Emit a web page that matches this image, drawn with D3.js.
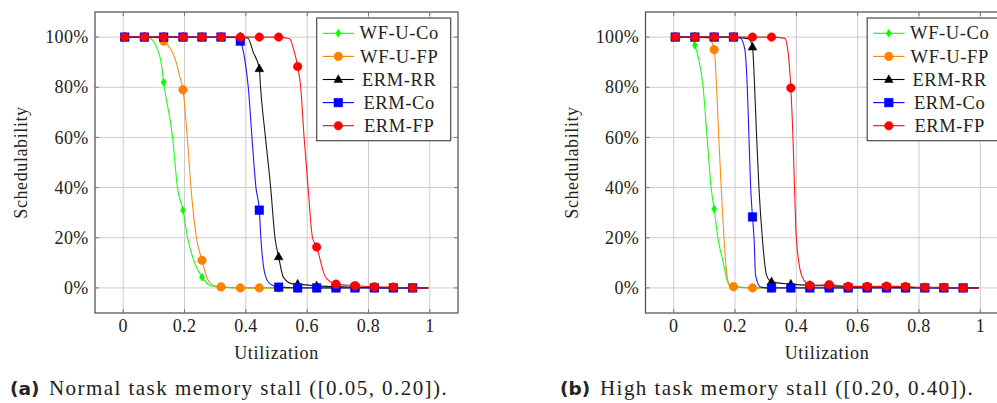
<!DOCTYPE html>
<html>
<head>
<meta charset="utf-8">
<script src="https://cdnjs.cloudflare.com/ajax/libs/d3/7.8.5/d3.min.js"></script>
<style>
  html, body { margin: 0; padding: 0; background: #fff; }
  svg { display: block; }
</style>
</head>
<body>
<svg id="chart" width="997" height="403"></svg>
<script>
// utilization values where the marks sit (same for every series)
const utilMarks = [0.005, 0.069, 0.132, 0.195, 0.257, 0.319, 0.382, 0.444, 0.507, 0.569, 0.631, 0.694, 0.756, 0.819, 0.881, 0.944];

const seriesNames = ['WF-U-Co', 'WF-U-FP', 'ERM-RR', 'ERM-Co', 'ERM-FP'];
const xTicks = [0, 0.2, 0.4, 0.6, 0.8, 1];
const yTicks = [0, 20, 40, 60, 80, 100];

// (a) normal task memory stall -- values at the marks, in %
const normalWfuCo = [100, 100, 82, 31, 4.3, 0.3, 0, 0, 0, 0, 0, 0, 0, 0, 0, 0];
const normalWfuFp = [100, 100, 98.4, 79, 11, 0.4, 0, 0, 0, 0, 0, 0, 0, 0, 0, 0];
const normalErmRr = [100, 100, 100, 100, 100, 100, 100, 87.4, 12.4, 1.5, 0.8, 0.5, 0.3, 0.1, 0, 0];
const normalErmCo = [100, 100, 100, 100, 100, 100, 98.4, 31, 0.3, 0, 0, 0, 0, 0, 0, 0];
const normalErmFp = [100, 100, 100, 100, 100, 100, 100, 100, 100, 88.3, 16.3, 1.5, 0.9, 0.4, 0.3, 0];
// (a) points of the curves between the marks [util, %]
const normalWfuCoCurve = [[0.087, 99.5], [0.109, 96], [0.125, 89], [0.161, 60], [0.177, 40], [0.21, 20], [0.234, 9.7], [0.283, 1], [0.995, 0]];
const normalWfuFpCurve = [[0.11, 99.8], [0.174, 89.4], [0.185, 84], [0.209, 60], [0.221, 40], [0.239, 20], [0.272, 4.4], [0.293, 1], [0.995, 0]];
const normalErmRrCurve = [[0.407, 99.5], [0.424, 94], [0.448, 80], [0.464, 60], [0.481, 40], [0.495, 20], [0.522, 4.4], [0.549, 1.7], [0.995, 0]];
const normalErmCoCurve = [[0.37, 99.8], [0.397, 90.7], [0.408, 80], [0.42, 60], [0.433, 40], [0.449, 20], [0.462, 5.7], [0.478, 1.7], [0.995, 0]];
const normalErmFpCurve = [[0.543, 99.3], [0.556, 95], [0.579, 80], [0.59, 60], [0.603, 40], [0.6175, 20], [0.657, 5], [0.675, 2.5], [0.995, 0]];

// (b) high task memory stall
const highWfuCo = [100, 96.7, 31.5, 0.5, 0, 0, 0, 0, 0, 0, 0, 0, 0, 0, 0, 0];
const highWfuFp = [100, 100, 95, 0.5, 0, 0, 0, 0, 0, 0, 0, 0, 0, 0, 0, 0];
const highErmRr = [100, 100, 100, 100, 96, 2.4, 1.5, 1, 0.8, 0.5, 0.4, 0.3, 0.2, 0.1, 0, 0];
const highErmCo = [100, 100, 100, 100, 28.3, 0, 0, 0, 0, 0, 0, 0, 0, 0, 0, 0];
const highErmFp = [100, 100, 100, 100, 100, 100, 79.7, 1, 1.3, 0.6, 0.6, 0.7, 0.5, 0.2, 0.2, 0];
const highWfuCoCurve = [[0.055, 100], [0.08, 92], [0.096, 80], [0.109, 60], [0.122, 40], [0.144, 20], [0.162, 10], [0.172, 4], [0.185, 0.6], [0.995, 0]];
const highWfuFpCurve = [[0.115, 99.5], [0.14, 80], [0.147, 60], [0.155, 40], [0.164, 20], [0.172, 7], [0.183, 0.8], [0.995, 0]];
const highErmRrCurve = [[0.245, 99.3], [0.264, 80], [0.2705, 60], [0.278, 40], [0.289, 20], [0.303, 5], [0.995, 0]];
const highErmCoCurve = [[0.218, 99.5], [0.232, 95], [0.24, 80], [0.2455, 60], [0.251, 40], [0.262, 20], [0.267, 5], [0.284, 0.3], [0.995, 0]];
const highErmFpCurve = [[0.362, 99.5], [0.374, 93], [0.389, 60], [0.394, 40], [0.4, 20], [0.417, 5], [0.436, 1.5], [0.995, 0]];

const captionTags = ['(a)', '(b)'];
const captionTexts = ['Normal task memory stall ([0.05, 0.20]).', 'High task memory stall ([0.20, 0.40]).'];

// styles
const COLORS = ['#00ff00', '#ff8000', '#000000', '#0000ff', '#ff0000'];
const MARKS = ['diamond', 'circle', 'triangle', 'square', 'circle'];
const SERIF = 'Liberation Serif';
const PLOT = { top: 12, height: 301, width: 363 };
const X_DOMAIN = [-0.092, 1.092];
const Y_DOMAIN = [-10, 110];

const $svg = d3.select('#chart');

function mergePoints(marks, curve) {
    const pts = utilMarks.map((u, i) => [u, marks[i]]).concat(curve);
    return pts.sort((a, b) => a[0] - b[0]);
}

function drawMark(g, type, cx, cy, color) {
    let m;
    if (type === 'circle') {
        m = g.append('circle').attr('cx', cx).attr('cy', cy).attr('r', 4.3);
    } else if (type === 'square') {
        m = g.append('rect').attr('x', cx - 4.3).attr('y', cy - 4.3).attr('width', 8.6).attr('height', 8.6);
    } else if (type === 'triangle') {
        m = g.append('path').attr('d', `M${cx},${cy - 4.8}L${cx + 4.4},${cy + 3}L${cx - 4.4},${cy + 3}Z`);
    } else {
        m = g.append('path').attr('d', `M${cx},${cy - 4}L${cx + 2.6},${cy}L${cx},${cy + 4}L${cx - 2.6},${cy}Z`);
    }
    m.attr('fill', color).attr('stroke', color).attr('stroke-width', 0.8).attr('stroke-opacity', 0.6);
}

function serifText(sel, size, spacing) {
    return sel.attr('font-family', SERIF)
        .attr('font-size', size)
        .attr('letter-spacing', spacing || 0)
        .attr('fill', '#222');
}

function drawPanel(left, series, tag, caption, captionX, captionSerifX) {
    const x = d3.scaleLinear().domain(X_DOMAIN).range([left, left + PLOT.width]);
    const y = d3.scaleLinear().domain(Y_DOMAIN).range([PLOT.top + PLOT.height, PLOT.top]);
    const bottom = PLOT.top + PLOT.height;
    const right = left + PLOT.width;

    const g = $svg.append('g');

    // grid
    g.selectAll('.gx').data(xTicks).enter().append('line')
        .attr('x1', d => x(d)).attr('x2', d => x(d))
        .attr('y1', PLOT.top).attr('y2', bottom)
        .attr('stroke', '#cccccc').attr('stroke-width', 1);
    g.selectAll('.gy').data(yTicks).enter().append('line')
        .attr('x1', left).attr('x2', right)
        .attr('y1', d => y(d)).attr('y2', d => y(d))
        .attr('stroke', '#cccccc').attr('stroke-width', 1);

    // series
    const line = d3.line().x(d => x(d[0])).y(d => y(d[1])).curve(d3.curveMonotoneX);
    series.forEach((s, i) => {
        g.append('path')
            .datum(mergePoints(s.marks, s.curve))
            .attr('d', line)
            .attr('fill', 'none')
            .attr('stroke', COLORS[i])
            .attr('stroke-width', 1.1)
            .attr('stroke-opacity', 0.9);
        const mg = g.append('g');
        utilMarks.forEach((u, k) => drawMark(mg, MARKS[i], x(u), y(s.marks[k]), COLORS[i]));
    });

    // frame + ticks
    g.append('rect')
        .attr('x', left).attr('y', PLOT.top)
        .attr('width', PLOT.width).attr('height', PLOT.height)
        .attr('fill', 'none').attr('stroke', '#4a4a4a').attr('stroke-width', 1.2);
    xTicks.forEach(t => {
        g.append('line').attr('x1', x(t)).attr('x2', x(t)).attr('y1', bottom).attr('y2', bottom - 4).attr('stroke', '#777');
        g.append('line').attr('x1', x(t)).attr('x2', x(t)).attr('y1', PLOT.top).attr('y2', PLOT.top + 4).attr('stroke', '#777');
    });
    yTicks.forEach(t => {
        g.append('line').attr('x1', left).attr('x2', left + 4).attr('y1', y(t)).attr('y2', y(t)).attr('stroke', '#777');
        g.append('line').attr('x1', right).attr('x2', right - 4).attr('y1', y(t)).attr('y2', y(t)).attr('stroke', '#777');
    });

    // tick labels
    serifText(g.selectAll('.xl').data(xTicks).enter().append('text'), 18, 0.3)
        .attr('x', d => x(d)).attr('y', 331.5)
        .attr('text-anchor', 'middle')
        .text(d => d);
    serifText(g.selectAll('.yl').data(yTicks).enter().append('text'), 18, 0.3)
        .attr('x', left - 6.5).attr('y', d => y(d)).attr('dy', '0.34em')
        .attr('text-anchor', 'end')
        .text(d => `${d}%`);

    // axis labels
    serifText(g.append('text'), 18, 0.7)
        .attr('x', x(0.5)).attr('y', 359)
        .attr('text-anchor', 'middle')
        .text('Utilization');
    serifText(g.append('text'), 18, 0.6)
        .attr('transform', `translate(${left - 68},${PLOT.top + PLOT.height / 2}) rotate(-90)`)
        .attr('text-anchor', 'middle')
        .text('Schedulability');

    // legend
    const lx = right - 7.3 - 134;
    const ly = PLOT.top + 6;
    const legend = g.append('g');
    legend.append('rect')
        .attr('x', lx).attr('y', ly).attr('width', 134).attr('height', 122.7)
        .attr('fill', '#fff').attr('stroke', '#4a4a4a').attr('stroke-width', 1.2);
    seriesNames.forEach((name, i) => {
        const ry = ly + 15.3 + i * 23.1;
        legend.append('line')
            .attr('x1', lx + 6).attr('x2', lx + 37.3).attr('y1', ry).attr('y2', ry)
            .attr('stroke', COLORS[i]).attr('stroke-width', 1.1);
        drawMark(legend, MARKS[i], lx + 21.6, ry, COLORS[i]);
        serifText(legend.append('text'), 18.5, 0.6)
            .attr('x', lx + 82.5).attr('y', ry).attr('dy', '0.33em')
            .attr('text-anchor', 'middle')
            .text(name);
    });

    // caption
    $svg.append('text')
        .attr('x', captionX).attr('y', 394.5)
        .attr('font-family', 'DejaVu Sans').attr('font-weight', 'bold').attr('font-size', 18.5)
        .attr('fill', '#222')
        .text(tag);
    serifText($svg.append('text'), 21, 1.45)
        .attr('x', captionSerifX).attr('y', 394.5)
        .text(caption);
}

function init() {
    drawPanel(95, [
        { marks: normalWfuCo, curve: normalWfuCoCurve },
        { marks: normalWfuFp, curve: normalWfuFpCurve },
        { marks: normalErmRr, curve: normalErmRrCurve },
        { marks: normalErmCo, curve: normalErmCoCurve },
        { marks: normalErmFp, curve: normalErmFpCurve }
    ], captionTags[0], captionTexts[0], 10, 49);

    drawPanel(645.5, [
        { marks: highWfuCo, curve: highWfuCoCurve },
        { marks: highWfuFp, curve: highWfuFpCurve },
        { marks: highErmRr, curve: highErmRrCurve },
        { marks: highErmCo, curve: highErmCoCurve },
        { marks: highErmFp, curve: highErmFpCurve }
    ], captionTags[1], captionTexts[1], 560, 600);
}

init();
</script>
</body>
</html>
